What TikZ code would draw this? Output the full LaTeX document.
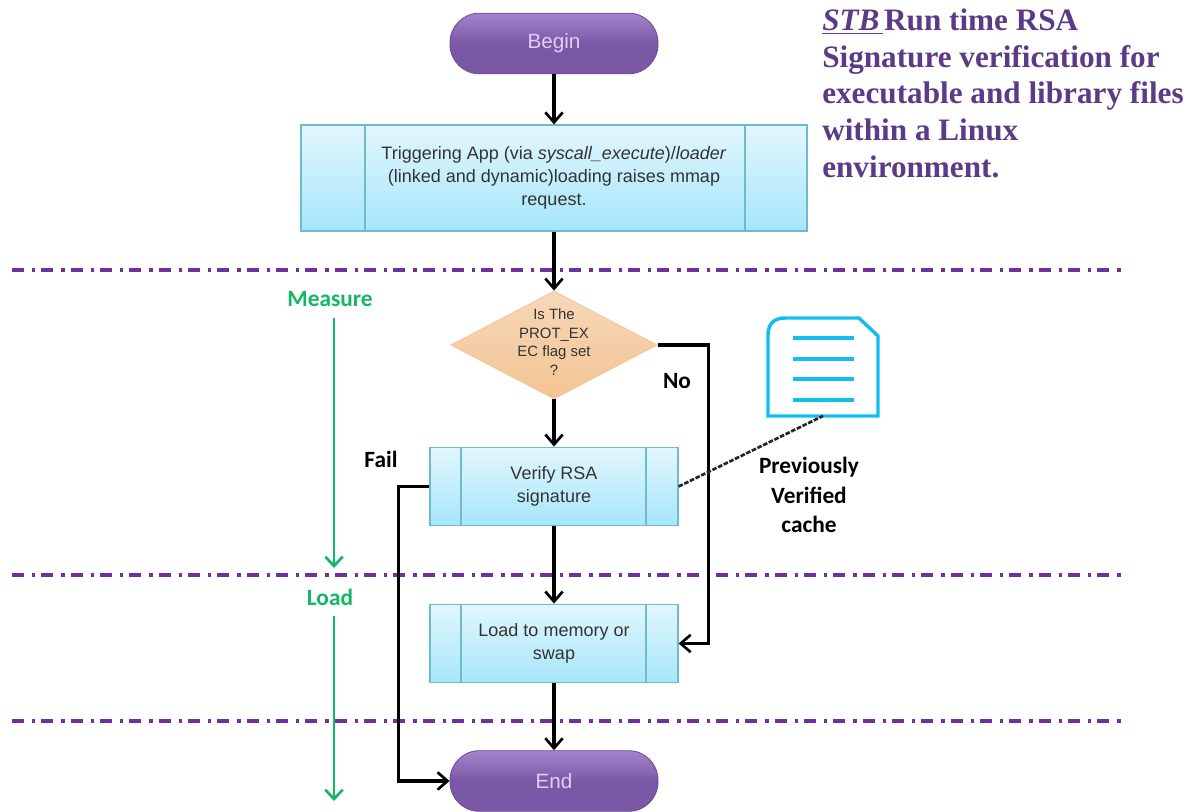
\documentclass[tikz,border=0pt]{standalone}
\usepackage{fontspec}
\setmainfont{Liberation Sans}
\newfontfamily\carl{Carlito}
\newfontfamily\titlefont{Liberation Serif}
\usetikzlibrary{arrows.meta,shapes.geometric,calc}
\definecolor{pur}{HTML}{7B58A6}
\definecolor{purlight}{HTML}{A384CC}
\definecolor{purdark}{HTML}{6A4A90}
\definecolor{purtext}{HTML}{E3CDF2}
\definecolor{boxedge}{HTML}{6FBBCB}
\definecolor{boxtop}{HTML}{E2F6FD}
\definecolor{boxbot}{HTML}{A6E6FA}
\definecolor{dline}{HTML}{7030A0}
\definecolor{grn}{HTML}{12B866}
\definecolor{cyanl}{HTML}{14BDF0}
\definecolor{titlec}{HTML}{5B3A86}
\definecolor{orgedge}{HTML}{F2C79A}
\tikzset{
  x=0.75pt,y=-0.75pt,
  pill/.style={draw=purdark,line width=0.6pt,top color=purlight,bottom color=pur,middle color=pur,rounded corners=22pt,minimum width=156pt,minimum height=45.5pt,inner sep=0pt,text=purtext,font=\fontsize{15.5}{18}\selectfont},
  procbox/.style={draw=boxedge,line width=0.9pt,top color=boxtop,bottom color=boxbot,inner sep=0pt,align=center,text=black!80,font=\fontsize{13.5}{17.2}\selectfont},
  innerline/.style={draw=boxedge,line width=0.9pt},
  decision/.style={diamond,draw=orgedge,line width=0.6pt,top color=orgedge!70!white,bottom color=orgedge!95!orange,inner sep=0pt,minimum width=155pt,minimum height=81pt,text=black!80,font=\fontsize{11.2}{13.9}\selectfont},
  flow/.style={draw=black,line width=2.3pt,-{Straight Barb[length=7.5pt,width=13pt,line width=2pt]}},
  cachelink/.style={draw=black!85,line width=2pt,dash pattern=on 3.5pt off 1.2pt},
  divider/.style={draw=dline,line width=2.4pt,dash pattern=on 9pt off 6pt on 2.5pt off 4.5pt},
  phase/.style={draw=grn,line width=2.2pt,-{Straight Barb[length=7pt,width=13pt,line width=2pt]}},
  phasetext/.style={text=grn,inner sep=0pt,font=\carl\bfseries\fontsize{17.5}{20}\selectfont},
  note/.style={text=black,inner sep=0pt,align=center,font=\carl\bfseries\fontsize{17.5}{22}\selectfont},
  cacheicon/.style={draw=cyanl,line width=2.6pt,fill=white},
  cacheline/.style={draw=cyanl,line width=2.4pt},
}
\begin{document}
\begin{tikzpicture}
\useasboundingbox (0,0) rectangle (1195,812);
% dividers
\coordinate (d1a) at (12,270); \coordinate (d1b) at (1126,270);
\coordinate (d2a) at (12,575); \coordinate (d2b) at (1126,575);
\coordinate (d3a) at (12,721); \coordinate (d3b) at (1126,721);
\draw[divider] (d1a) -- (d1b);
\draw[divider] (d2a) -- (d2b);
\draw[divider] (d3a) -- (d3b);
% nodes
\node[pill] (begin) at (554,43.5) {Begin};
\node[procbox,minimum width=379.5pt,minimum height=79.5pt] (trigger) at (554,178) {Triggering App (via \textit{syscall\_execute})/\textit{loader}\\(linked and dynamic)loading raises mmap\\request.};
\node[decision] (flag) at (554,345) {\raisebox{-0.35em}{\smash{\makebox[0pt]{\begin{tabular}{@{}c@{}}Is The\\PROT\_EX\\EC flag set\\?\end{tabular}}}}};
\node[procbox,minimum width=186pt,minimum height=59pt] (verify) at (554,486.5) {Verify RSA\\signature};
\node[procbox,minimum width=186pt,minimum height=59pt] (load) at (554,643.5) {Load to memory or\\swap};
\node[pill] (end) at (554,781) {End};
% inner bars
\draw[innerline] (365,125) -- (365,231);
\draw[innerline] (745,125) -- (745,231);
\draw[innerline] (461,447) -- (461,526);
\draw[innerline] (646,447) -- (646,526);
\draw[innerline] (461,604) -- (461,683);
\draw[innerline] (646,604) -- (646,683);
% cache icon
\draw[cacheicon] (768,416) -- (768,335) .. controls (768,324) and (774,318) .. (785,318) -- (859,318) -- (878,336) -- (878,416) -- cycle;
\node[minimum width=82pt,minimum height=73pt,inner sep=0pt] (cache) at (823,367) {};
\draw[cacheline] (793,338) -- (854,338);
\draw[cacheline] (793,359) -- (854,359);
\draw[cacheline] (793,379) -- (854,379);
\draw[cacheline] (793,400) -- (854,400);
% flow
\draw[flow] (begin.south) -- (trigger.north);
\draw[flow] (trigger.south) -- (flag.north);
\draw[flow] (flag.south) -- (verify.north);
\draw[flow] (verify.south) -- (load.north);
\draw[flow] (load.south) -- (end.north);
\draw[flow] (flag.east) -- ++(51,0) |- (load.east);
\draw[flow] (verify.west) -- ++(-31,0) |- (end.west);
\draw[cachelink] (verify.east) -- (cache.south);
% labels
\node[note] (no) at (677,381) {No};
\node[note] (fail) at (381,459) {Fail};
\node[note] (prev) at (809,495) {Previously\\Verified\\cache};
\node[phasetext] (measure) at (330,299) {Measure};
\node[phasetext] (loadlabel) at (330,597) {Load};
\coordinate (measureend) at (334,568);
\coordinate (loadend) at (334,801);
\draw[phase] (334,318) -- (measureend);
\draw[phase] (334,616) -- (loadend);
\node[anchor=north west,inner sep=0pt,align=left,text=titlec,font=\titlefont\bfseries\fontsize{23.4}{27.4}\selectfont] (title) at (822,9) {\underline{\textit{STB\kern2.5pt}}\kern1pt Run time RSA\\Signature verification for\\executable and library files\\within a Linux\\environment.};
\end{tikzpicture}
\end{document}
